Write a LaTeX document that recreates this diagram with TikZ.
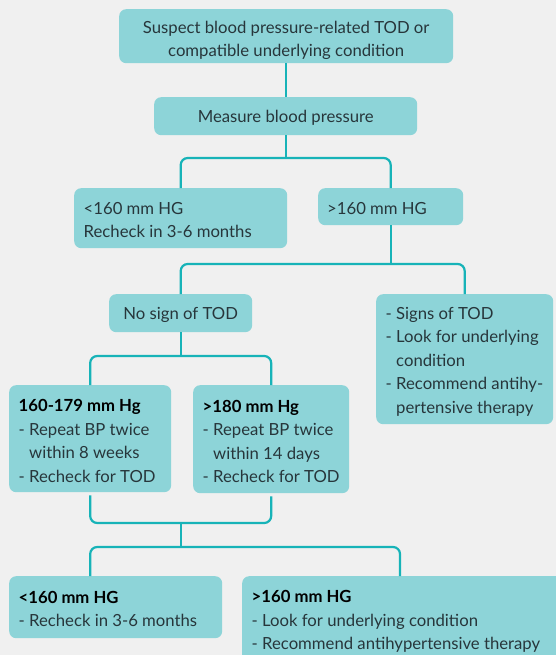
\documentclass[tikz,border=0pt]{standalone}
\usepackage{fontspec}
\setmainfont{Lato}
\usetikzlibrary{calc}
\definecolor{bgc}{HTML}{F0F0F0}
\definecolor{boxc}{HTML}{8DD4D8}
\definecolor{linec}{HTML}{17B3B8}
\definecolor{txtc}{HTML}{27363B}
\newcommand\bphead[1]{\textcolor{black}{\textbf{#1}}}
\newcommand\ind{\hphantom{- }}
\begin{document}
\begin{tikzpicture}[x=1pt,y=-1pt,
  box/.style={fill=boxc, rounded corners=7pt, inner sep=0pt, anchor=north west},
  txt/.style={text=txtc, font=\fontsize{16.7}{23.5}\selectfont, inner sep=0pt},
  ltxt/.style={txt, align=left, anchor=west},
  ctxt/.style={txt, align=center},
  conn/.style={draw=linec, line width=2.2pt, rounded corners=7pt}]
\useasboundingbox (0,0) rectangle (556,655);
\fill[bgc] (0,0) rectangle (556,655);
\clip (0,0) rectangle (556,655);

% boxes
\node[box, minimum width=334pt, minimum height=54pt] (b1) at (119,9) {};
\node[box, minimum width=263pt, minimum height=38pt] (b2) at (154,97) {};
\node[box, minimum width=213pt, minimum height=60pt] (b3) at (74,188) {};
\node[box, minimum width=145pt, minimum height=37pt] (b4) at (318,188) {};
\node[box, minimum width=143pt, minimum height=38pt] (ns) at (109,294) {};
\node[box, minimum width=177pt, minimum height=130pt] (sg) at (376,294) {};
\node[box, minimum width=162pt, minimum height=107pt] (b179) at (9,385) {};
\node[box, minimum width=156pt, minimum height=108pt] (b180) at (193,385) {};
\node[box, minimum width=213pt, minimum height=62pt] (bl) at (9,576) {};
\node[box, minimum width=360pt, minimum height=88pt] (br) at (242,576) {};

% texts
\node[ctxt] (b1t) at ([yshift=-4pt]b1.center)
  {Suspect blood pressure-related TOD or\\compatible underlying condition};
\node[ctxt] (b2t) at ([yshift=-2pt]b2.center) {Measure blood pressure};
\node[ltxt] (b3t) at ([xshift=9.5pt,yshift=-2pt]b3.west)
  {<160 mm HG\\Recheck in 3-6 months};
\node[ltxt] (b4t) at ([xshift=9pt,yshift=-2pt]b4.west) {>160 mm HG};
\node[ctxt] (nst) at ([yshift=-2pt]ns.center) {No sign of TOD};
\node[ltxt] (sgt) at ([xshift=9.5pt,yshift=-2.5pt]sg.west)
  {- Signs of TOD\\- Look for underlying\\\ind condition\\- Recommend antihy-\\\ind pertensive therapy};
\node[ltxt] (b179t) at ([xshift=9.5pt,yshift=-2.5pt]b179.west)
  {\bphead{160-179 mm Hg}\\- Repeat BP twice\\\ind within 8 weeks\\- Recheck for TOD};
\node[ltxt] (b180t) at ([xshift=9.5pt,yshift=-2.5pt]b180.west)
  {\bphead{>180 mm Hg}\\- Repeat BP twice\\\ind within 14 days\\- Recheck for TOD};
\node[ltxt] (blt) at ([xshift=9.5pt,yshift=-2pt]bl.west)
  {\bphead{<160 mm HG}\\- Recheck in 3-6 months};
\node[ltxt] (brt) at ([xshift=9.5pt,yshift=-1.5pt]br.west)
  {\bphead{>160 mm HG}\\- Look for underlying condition\\- Recommend antihypertensive therapy};

% connectors
\draw[conn] (b1.south) -- (b1.south |- b2.north);
\draw[conn] (b2.south) -- (b2.south |- 0,158);
\draw[conn] (b3.north) -- (b3.north |- 0,158) -- (b4.north |- 0,158) -- (b4.north);
\draw[conn] (b4.south) -- (b4.south |- 0,264);
\draw[conn] (ns.north) -- (ns.north |- 0,264) -- (sg.north |- 0,264) -- (sg.north);
\draw[conn] (ns.south) -- (ns.south |- 0,356);
\draw[conn] (b179.north) -- (b179.north |- 0,356) -- (b180.north |- 0,356) -- (b180.north);
\draw[conn] ([yshift=-3pt]b179.south) -- (b179.south |- 0,523) -- (b180.south |- 0,523) -- ([yshift=-3pt]b180.south);
\draw[conn] (ns.south |- 0,523) -- (ns.south |- 0,547);
\draw[conn] (b179.south |- bl.north) -- (b179.south |- 0,547) -- ([xshift=158pt]br.north west |- 0,547) -- ([xshift=158pt]br.north west);
\end{tikzpicture}
\end{document}
